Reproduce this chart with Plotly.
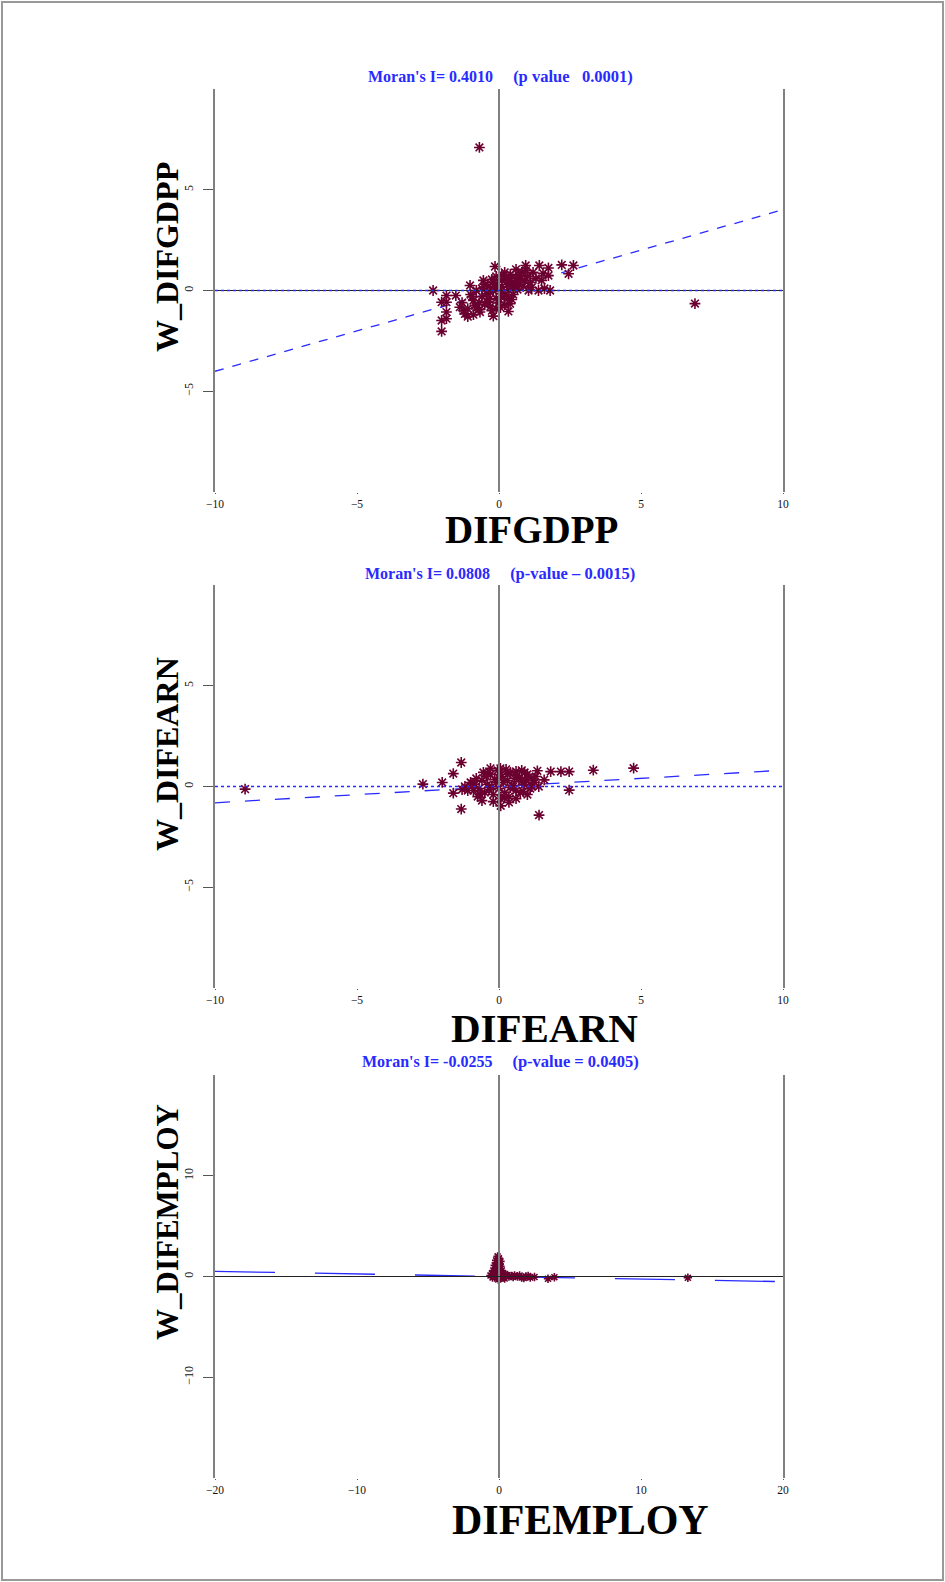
import plotly.graph_objects as go

# ---------------- data ----------------
morans_i = [0.4010, 0.0808, -0.0255]
titles_main = ["Moran's I= 0.4010", "Moran's I= 0.0808", "Moran's I= -0.0255"]
titles_p = ["(p value &nbsp; 0.0001)", "(p-value \u2013 0.0015)", "(p-value = 0.0405)"]
x_titles = ["DIFGDPP", "DIFEARN", "DIFEMPLOY"]
y_titles = ["W_DIFGDPP", "W_DIFEARN", "W_DIFEMPLOY"]
x_ranges = [[-10, 10], [-10, 10], [-20, 20]]
y_ranges = [[-10, 10], [-10, 10], [-20, 20]]
x_ticks = [[-10, -5, 0, 5, 10], [-10, -5, 0, 5, 10], [-20, -10, 0, 10, 20]]
y_ticks = [[-5, 0, 5], [-5, 0, 5], [-10, 0, 10]]

gdp_x = [-0.69, 6.9, -2.02, -2.02, -1.85, -1.85, -2.02, -1.85, -1.85, -1.52, -2.32, -1.38, -1.2,
         -1.02, -0.14, 0.94, 1.42, 1.74, 2.21, 2.62, 2.45, 1.74, 1.39, 1.04, 0.39, 0.33, -0.2,
         -0.67, -1.1, -1.3, -0.9, -1.0, -0.8, -0.6, -0.5, -0.4, -0.3, -0.2, -0.1, 0.0, 0.1, 0.2,
         0.3, 0.4, 0.5, 0.6, 0.7, 0.8, 0.9, 1.0, 1.1, 1.2, 0.2, -0.1, 0.0, -0.3, -0.7, -0.5, 0.3,
         0.5, 0.1, -0.2, 0.15, -0.05, 0.25, 0.45, 0.65, -0.45, -0.6, -0.35, 0.05, 0.35, 0.55,
         0.75, -0.15, -0.25, 0.85, 1.3, 1.5, 1.6, 1.8, 1.55, 0.95, 0.6, -0.9, -1.1, -0.8, -1.25,
         -0.1, 0.2, 0.45, -0.95, -0.7, -0.55, -0.25, 0.05, 0.4, 0.7, 1.15, -0.4, -0.85, 0.1]
gdp_wy = [7.1, -0.65, -2.03, -1.49, -1.40, -1.07, -0.58, -0.58, -0.25, -0.25, 0.0, -0.83, -1.16,
          0.25, 1.19, 1.24, 1.24, 1.12, 1.27, 1.24, 0.83, 0.74, 0.0, 0.0, -0.66, -1.04, -1.27,
          -1.07, -0.9, -0.6, -0.5, -0.2, 0.0, -0.3, -0.7, 0.2, -0.1, 0.4, -0.4, 0.1, 0.5, -0.2,
          0.3, 0.8, 0.1, 0.6, 0.3, 0.9, 0.5, 0.7, 0.4, 0.9, 0.9, 0.7, -0.6, -0.8, -0.6, 0.3, -0.4,
          -0.2, 0.2, 0.0, -0.1, 0.3, 0.6, 0.4, 0.05, -0.15, 0.1, -0.45, -0.3, 0.0, 0.35, 0.6, 0.15,
          0.55, 0.2, 0.6, 0.5, 0.1, 0.0, 0.85, 1.0, 1.05, -1.2, -1.3, -0.85, -1.0, -0.9, -0.7,
          -0.45, -0.3, -0.95, 0.5, -1.0, -0.85, 0.6, 0.75, 0.15, -0.55, -0.75, 0.75]

earn_x = [-8.94, -2.68, -2.0, -1.61, -1.33, -1.61, -1.33, 1.41, 1.35, 1.59, 1.82, 2.18, 2.47,
          2.47, 3.32, 4.74, 0.06, 0.35, -1.2, -1.0, -0.9, -0.8, -0.7, -0.6, -0.5, -0.4, -0.3,
          -0.2, -0.1, 0.0, 0.1, 0.2, 0.3, 0.4, 0.5, 0.6, 0.7, 0.8, 0.9, 1.0, 1.1, 1.2, 1.3, -1.1,
          -0.85, -0.65, -0.45, -0.25, -0.05, 0.15, 0.35, 0.55, 0.75, 0.95, 1.15, -0.95, -0.75,
          -0.55, -0.35, -0.15, 0.05, 0.25, 0.45, 0.65, 0.85, 1.05, 1.25, -0.6, -0.2, 0.2, 0.6,
          1.0, -0.4, 0.0, 0.4, 0.8, 1.4, -1.3, 0.05, 0.9, 0.3, -0.3, 0.6]
earn_wy = [-0.13, 0.12, 0.2, 0.64, 1.19, -0.33, -1.12, -1.42, 0.78, 0.33, 0.74, 0.74, 0.74,
           -0.18, 0.81, 0.91, -0.96, -0.79, 0.0, 0.2, -0.2, 0.4, -0.1, 0.3, -0.3, 0.1, 0.6,
           -0.4, 0.2, -0.1, 0.5, -0.3, 0.3, 0.7, 0.0, -0.2, 0.4, 0.8, 0.1, 0.6, -0.1, 0.3, 0.5,
           -0.2, 0.1, -0.4, 0.5, 0.0, 0.8, 0.2, -0.5, 0.4, -0.3, 0.3, 0.0, 0.15, -0.5, 0.7, -0.15,
           0.35, -0.6, 0.85, 0.05, 0.55, -0.25, 0.45, 0.2, -0.7, -0.75, -0.55, 0.75, -0.4, 0.65,
           0.45, -0.05, 0.25, 0.0, -0.15, 0.9, 0.7, 0.6, 0.9, -0.6]

emp_x = [-0.1, 0.0, -0.2, 0.1, -0.1, -0.3, 0.1, 0.0, -0.4, 0.2, -0.2, 0.3, -0.5, -0.6, 0.5,
         0.7, -0.3, 0.0, 0.3, 1.0, 1.3, 1.6, 1.9, 2.2, 2.5, 1.1, 3.45, 3.9, 13.3, -0.15, 0.15,
         -0.45, 0.4, 0.9, 1.45, 0.05, -0.25, 0.25, -0.05, 0.6, 1.75, 2.05]
emp_wy = [2.0, 1.8, 1.6, 1.5, 1.3, 1.1, 1.0, 0.8, 0.6, 0.6, 0.5, 0.3, 0.3, 0.1, 0.1, 0.0,
          -0.1, -0.2, -0.1, -0.05, 0.0, -0.1, 0.0, -0.1, -0.05, 0.1, -0.23, -0.07, -0.13, 0.9,
          0.4, -0.1, -0.2, 0.05, 0.1, 1.2, 0.2, 0.0, -0.3, 0.15, -0.15, 0.05]

xs = [gdp_x, earn_x, emp_x]
ys = [gdp_wy, earn_wy, emp_wy]

# ---------------- layout geometry ----------------
W, H = 945, 1582
x_dom = [215 / W, 783 / W]
panel_px = [(89, 492), (585, 988), (1075, 1478)]
y_doms = [[1 - b / H, 1 - t / H] for t, b in panel_px]
title_y = [77, 573, 1061]
ytitle_pos = [(167, 257, 32), (167, 754, 32), (167, 1222, 31)]
xtitle_pos = [(531, 529, 39), (544, 1028, 41), (580, 1520, 42)]
reg_dash = ["dash", "longdash", "60px,40px"]
marker_size = [9, 9, 7]

MAROON = "#6b0030"
BLUE = "#2a2aff"
GRAY = "#808080"
SERIF = "Liberation Serif, Times New Roman, serif"

fig = go.Figure()
layout = dict(width=W, height=H, autosize=False, margin=dict(l=0, r=0, t=0, b=0, pad=0),
              paper_bgcolor="white", plot_bgcolor="white", showlegend=False)
annotations = []
shapes = []

for i in range(3):
    sfx = "" if i == 0 else str(i + 1)
    xa, ya = "x" + sfx, "y" + sfx
    rx = x_ranges[i]
    fig.add_trace(go.Scatter(x=rx, y=[morans_i[i] * v for v in rx], mode="lines",
                             line=dict(color=BLUE, width=1.3, dash=reg_dash[i]),
                             xaxis=xa, yaxis=ya, hoverinfo="skip"))
    fig.add_trace(go.Scatter(x=xs[i], y=ys[i], mode="markers",
                             marker=dict(symbol="asterisk-open", size=marker_size[i],
                                         color=MAROON,
                                         line=dict(color=MAROON, width=1.6)),
                             xaxis=xa, yaxis=ya))
    layout["xaxis" + sfx] = dict(domain=x_dom, anchor=ya, range=rx, tickvals=x_ticks[i],
                                 automargin=False,
                                 showgrid=False, zeroline=False, showline=False,
                                 ticks="outside", ticklen=1, tickcolor="#555",
                                 ticklabelstandoff=0,
                                 tickfont=dict(family=SERIF, size=11.5, color="#111"))
    layout["yaxis" + sfx] = dict(domain=y_doms[i], anchor=xa, range=y_ranges[i],
                                 automargin=False,
                                 tickvals=y_ticks[i], showgrid=False, zeroline=False,
                                 showline=True, linecolor=GRAY, linewidth=1.5, mirror=True,
                                 ticks="outside", ticklen=10, tickcolor="#555", tickangle=-90,
                                 ticklabelstandoff=5,
                                 tickfont=dict(family=SERIF, size=12, color="#111"))
    shapes.append(dict(type="line", xref=xa, yref=ya + " domain", x0=0, x1=0, y0=0, y1=1,
                       line=dict(color=GRAY, width=2)))
    if i != 1:
        shapes.append(dict(type="line", xref=xa + " domain", yref=ya, x0=0, x1=1, y0=0, y1=0,
                           line=dict(color="#222", width=1.2)))
    if i != 2:
        shapes.append(dict(type="line", xref=xa + " domain", yref=ya, x0=0, x1=1, y0=0, y1=0,
                           line=dict(color=BLUE, width=1.5, dash="dot")))
    annotations.append(dict(
        text=("<b><span style='font-size:16px'>" + titles_main[i] + "</span>"
              "&nbsp;&nbsp;&nbsp;&nbsp;&nbsp;<span style='font-size:16.5px'>" + titles_p[i]
              + "</span></b>"),
        xref="paper", yref="paper", x=500 / W, y=1 - title_y[i] / H,
        xanchor="center", yanchor="middle", showarrow=False,
        font=dict(family=SERIF, size=16, color=BLUE)))
    tx, ty, ts = ytitle_pos[i]
    annotations.append(dict(text="<b>" + y_titles[i] + "</b>", xref="paper", yref="paper",
                            x=tx / W, y=1 - ty / H, xanchor="center", yanchor="middle",
                            textangle=-90, showarrow=False,
                            font=dict(family=SERIF, size=ts, color="black")))
    tx, ty, ts = xtitle_pos[i]
    annotations.append(dict(text="<b>" + x_titles[i] + "</b>", xref="paper", yref="paper",
                            x=tx / W, y=1 - ty / H, xanchor="center", yanchor="middle",
                            showarrow=False, font=dict(family=SERIF, size=ts, color="black")))

shapes.append(dict(type="rect", xref="paper", yref="paper", x0=2 / W, x1=1 - 2 / W,
                   y0=2 / H, y1=1 - 2 / H, line=dict(color="#999", width=2)))

layout["annotations"] = annotations
layout["shapes"] = shapes
fig.update_layout(**layout)

post = """
document.documentElement.style.margin='0';
document.documentElement.style.overflow='hidden';
document.body.style.margin='0';
document.body.style.overflow='hidden';
"""
fig.write_html("out.html",
               config={"responsive": False, "displayModeBar": False},
               post_script=post)
